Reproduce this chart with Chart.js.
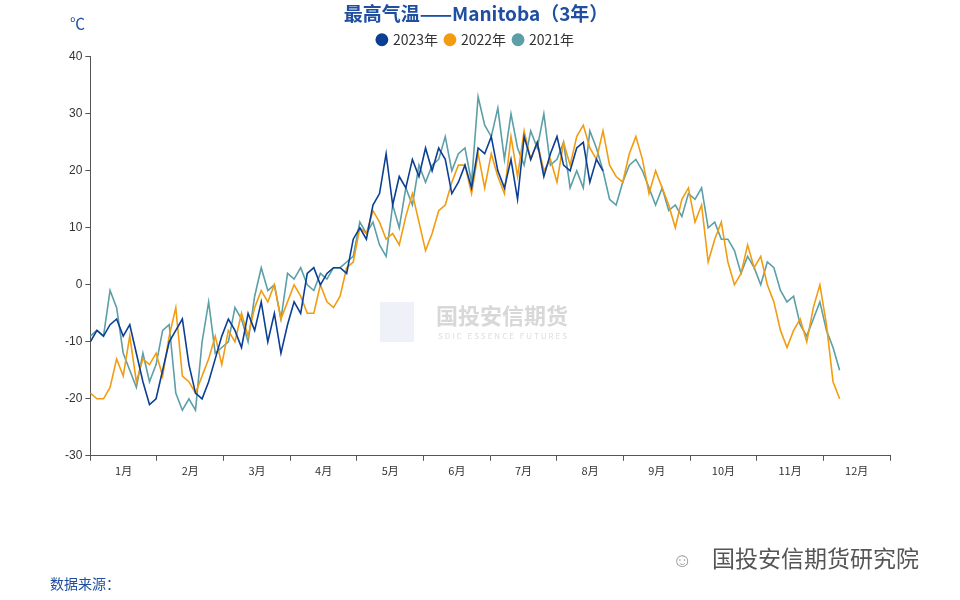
<!DOCTYPE html><html><head><meta charset="utf-8">
<script src="https://cdn.jsdelivr.net/npm/chart.js@4/dist/chart.umd.min.js"></script>
<style>body{margin:0;background:#fff}#w{position:relative;width:960px;height:600px}
.t{position:absolute;font-family:"Noto Sans CJK SC";}</style></head><body><div id="w">
<canvas id="c" width="960" height="600"></canvas>
<div class="t" style="left:70px;top:12px;color:#1f4fa0;font-size:15px">℃</div>
<div class="t" style="left:50px;top:573px;color:#1f4fa0;font-size:14px">数据来源：</div>
<div class="t" style="left:712px;top:540px;color:#555;font-size:23px">国投安信期货研究院</div>
<div class="t" style="left:672px;top:544px;color:#999;font-size:20px">☺</div>
<div class="t" style="left:436px;top:298px;color:#d8d8d8;font-size:22px;font-weight:bold">国投安信期货</div>
<div class="t" style="left:438px;top:330px;color:#ddd;font-size:8px;letter-spacing:2px">SDIC ESSENCE FUTURES</div>
<div class="t" style="left:380px;top:302px;width:34px;height:40px;background:#eef1f7"></div>
</div>
<script>
const months=['1月','2月','3月','4月','5月','6月','7月','8月','9月','10月','11月','12月'];
const step=3;
const y2023=[-10,-8,-9,-7,-6,-9,-7,-12,-17,-21,-20,-15,-10,-8,-6,-14,-19,-20,-17,-13,-9,-6,-8,-11,-5,-8,-3,-10,-5,-12,-7,-3,-5,2,3,0,2,3,3,2,8,10,8,14,16,23,14,19,17,22,19,24,20,24,22,16,18,21,17,24,23,26,20,17,22,15,26,22,25,19,23,26,21,20,24,25,18,22,20];
const y2022=[-19,-20,-20,-18,-13,-16,-9,-17,-13,-14,-12,-16,-9,-4,-16,-17,-19,-16,-13,-9,-14,-8,-10,-5,-9,-4,-1,-3,0,-6,-3,0,-2,-5,-5,0,-3,-4,-2,3,4,10,9,13,11,8,9,7,12,16,11,6,9,13,14,18,21,21,16,23,17,23,19,16,26,19,27,22,25,20,22,18,25,21,26,28,24,22,27,21,19,18,23,26,22,16,20,17,14,10,15,17,11,14,4,8,11,4,0,2,7,3,5,0,-3,-8,-11,-8,-6,-10,-4,0,-7,-17,-20];
const y2021=[-9,-8,-9,-1,-4,-12,-15,-18,-12,-17,-14,-8,-7,-19,-22,-20,-22,-10,-3,-12,-11,-10,-4,-6,-10,-2,3,-1,0,-6,2,1,3,0,-1,2,1,3,3,4,5,11,9,11,7,5,14,10,17,14,21,18,21,22,26,20,23,24,18,33,28,26,31,22,30,24,21,27,24,30,21,22,25,17,20,17,27,24,20,15,14,18,21,22,20,17,14,17,13,14,12,16,15,17,10,11,8,8,6,2,5,3,0,4,3,-1,-3,-2,-7,-9,-6,-3,-8,-11,-15];
const pts=a=>a.map((v,i)=>({x:i*step,y:v}));
const ds=(l,a,c)=>({label:l,data:pts(a),borderColor:c,backgroundColor:c,borderWidth:1.6,pointRadius:0,tension:0,xAxisID:'x'});
new Chart(document.getElementById('c'),{type:'line',
data:{labels:months,datasets:[ds('2023年',y2023,'#0b3f94'),ds('2022年',y2022,'#f29c11'),ds('2021年',y2021,'#5c9fa6')]},
options:{responsive:false,animation:false,layout:{padding:{left:62,right:70,top:0,bottom:120}},
plugins:{title:{display:true,text:'最高气温——Manitoba（3年）',color:'#1f4fa0',font:{size:19,weight:'bold',family:'Noto Sans CJK SC'},padding:{top:2,bottom:0}},
legend:{labels:{usePointStyle:true,pointStyle:'circle',boxWidth:8,boxHeight:8,padding:8,color:'#333',font:{size:14,family:'Noto Sans CJK SC'}}}},
scales:{x:{type:'linear',min:0,max:365,display:false},
x2:{type:'category',labels:months,offset:true,position:'bottom',grid:{offset:true,drawOnChartArea:false,tickLength:5,color:'#555'},border:{color:'#555'},ticks:{color:'#333',font:{size:11,family:'Noto Sans CJK SC'}}},
y:{min:-30,max:40,ticks:{stepSize:10,color:'#333',font:{size:12}},grid:{drawOnChartArea:false,tickLength:5,color:'#555'},border:{color:'#555'}}}}});
</script></body></html>
